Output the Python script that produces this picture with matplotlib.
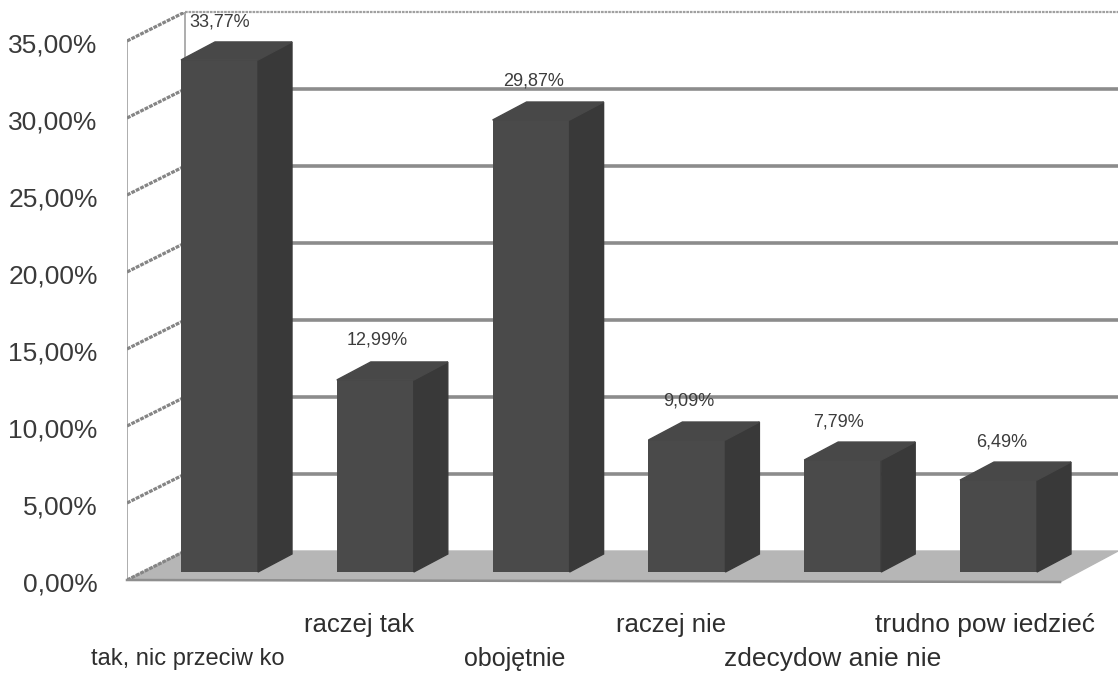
import matplotlib
matplotlib.use("Agg")
import matplotlib.pyplot as plt
from matplotlib.transforms import ScaledTranslation

plt.rcParams["font.family"] = ["Liberation Sans", "DejaVu Sans"]

# data
categories = ["tak, nic przeciw ko", "raczej tak", "obojętnie", "raczej nie", "zdecydow anie nie", "trudno pow iedzieć"]
values = [33.77, 12.99, 29.87, 9.09, 7.79, 6.49]
value_labels = ["33,77%", "12,99%", "29,87%", "9,09%", "7,79%", "6,49%"]
yticks = [0, 5, 10, 15, 20, 25, 30, 35]
ytick_labels = ["0,00%", "5,00%", "10,00%", "15,00%", "20,00%", "25,00%", "30,00%", "35,00%"]

W, H = 1118, 673
x_unit = 155.8   # px per category
y_unit = 15.4    # px per percent

fig = plt.figure(figsize=(W / 100, H / 100), dpi=100)
ax = fig.add_axes([127 / W, (H - 580) / H, (W - 127) / W, 568 / H])
ax.set_xlim(-(219.5 - 127) / x_unit, (W - 219.5) / x_unit)
ax.set_ylim(0, 568 / y_unit)
for s in ax.spines.values():
    s.set_visible(False)

x0, x1 = ax.get_xlim()

# offset of the back wall
wall_dx = 58 / x_unit
wall_dy = 29 / y_unit

# floor
ax.fill([x0, x0 + wall_dx, x1, x1 - wall_dx], [0, wall_dy, wall_dy, -2 / y_unit],
        color="#b6b6b6", zorder=1, clip_on=False)
ax.plot([x0, x1 - wall_dx], [0, -2 / y_unit], color="#8e8e8e", lw=1.8, zorder=1.5, clip_on=False)

# walls and grid
ax.plot([x0, x0], [0, 35], color="#a0a0a0", lw=1.2, zorder=1)
ax.plot([x0 + wall_dx, x0 + wall_dx], [wall_dy, 35 + wall_dy], color="#a0a0a0", lw=1.2, zorder=1)
for t in yticks:
    ax.plot([x0, x0 + wall_dx], [t, t + wall_dy], color="#858585", lw=2.3, ls=(0, (1.2, 0.35)), zorder=1.2)
    if t == 35:
        ax.plot([x0 + wall_dx, x1], [t + wall_dy, t + wall_dy], color="#a0a0a0", lw=1.6,
                ls=(0, (1.2, 0.4)), zorder=1, clip_on=False)
    elif t > 0:
        ax.plot([x0 + wall_dx, x1], [t + wall_dy, t + wall_dy], color="#8c8c8c", lw=2.6, zorder=1)

# 3d bars
bar_w = 77 / x_unit
bar_dx = 34 / x_unit
bar_dy = 18 / y_unit
floor_y = 8 / y_unit
front = "#4a4a4a"
side = "#393939"
for i, v in enumerate(values):
    l = i - bar_w / 2
    r = i + bar_w / 2
    ax.bar(i, v - floor_y, bottom=floor_y, width=bar_w, color=front, zorder=3)
    ax.fill([r, r + bar_dx, r + bar_dx, r],
            [floor_y, floor_y + bar_dy, v + bar_dy, v], color=side, zorder=3)
    ax.fill([l, l + bar_dx, r + bar_dx, r],
            [v, v + bar_dy, v + bar_dy, v], color="#484848", zorder=3)

# value labels, px offsets from the bar centre and top
label_dx = [0, 2, 2, 2, -4, 3]
label_dy = [38, 40, 39, 39, 38, 38]
for i, (v, t) in enumerate(zip(values, value_labels)):
    ax.annotate(t, (i, v), xytext=(label_dx[i] * 0.72, label_dy[i] * 0.72), textcoords="offset points",
                ha="center", va="center", fontsize=13, color="#3c3c3c", zorder=5, annotation_clip=False)

ax.set_yticks(yticks)
ax.set_yticklabels(ytick_labels, fontsize=19, color="#3a3a3a")
ax.tick_params(axis="y", length=0, pad=21)
shift = ScaledTranslation(0, -2 / 100, fig.dpi_scale_trans)
for lab in ax.get_yticklabels():
    lab.set_transform(lab.get_transform() + shift)

# staggered category labels
ax.set_xticks([])
label_x = [188, 359, 515, 671, 833, 985]
label_y = [659, 625, 659, 625, 659, 625]
label_size = [17, 18.5, 18, 18.5, 19, 19]
for name, px, py, fs in zip(categories, label_x, label_y, label_size):
    fig.text(px / W, 1 - py / H, name, fontsize=fs, color="#2e2e2e", ha="center", va="center")

fig.savefig("out.png", dpi=100)
